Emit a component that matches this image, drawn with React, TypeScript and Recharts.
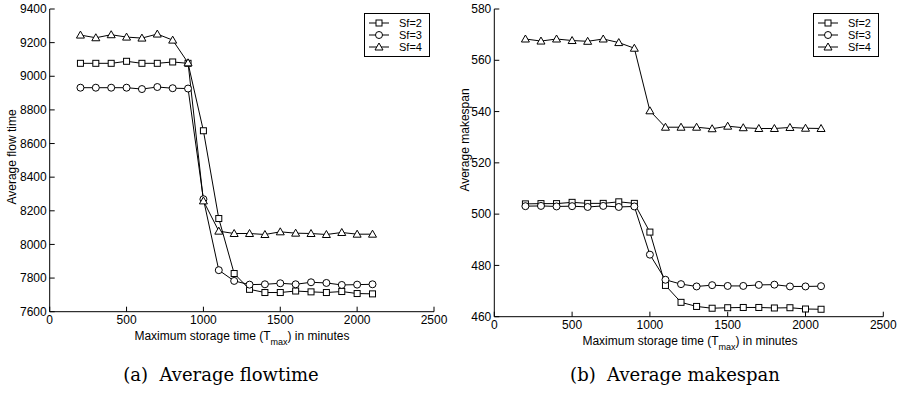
import React from 'react';
import { LineChart, Line, XAxis, YAxis } from 'recharts';

// storage time T_max in minutes
const tmax = [200, 300, 400, 500, 600, 700, 800, 900, 1000, 1100, 1200, 1300, 1400, 1500, 1600, 1700, 1800, 1900, 2000, 2100];

// (a) average flow time
const flowSf2 = [9077, 9077, 9077, 9089, 9077, 9077, 9085, 9077, 8676, 8154, 7827, 7733, 7714, 7714, 7723, 7718, 7714, 7720, 7708, 7706];
const flowSf3 = [8932, 8932, 8932, 8932, 8924, 8936, 8929, 8927, 8269, 7847, 7783, 7761, 7763, 7769, 7763, 7775, 7771, 7759, 7761, 7763];
const flowSf4 = [9245, 9229, 9247, 9233, 9227, 9251, 9215, 9080, 8259, 8079, 8065, 8065, 8059, 8075, 8067, 8065, 8059, 8071, 8061, 8061];

// (b) average makespan
const spanSf2 = [504.0, 504.1, 504.1, 504.6, 504.2, 504.2, 504.8, 504.2, 493.0, 472.2, 465.6, 464.0, 463.3, 463.5, 463.6, 463.6, 463.4, 463.5, 463.0, 462.9];
const spanSf3 = [503.1, 503.2, 503.0, 503.1, 502.8, 503.2, 502.8, 503.0, 484.2, 474.4, 472.7, 471.8, 472.3, 472.0, 472.0, 472.4, 472.5, 471.8, 471.8, 471.9];
const spanSf4 = [568.3, 567.5, 568.3, 567.7, 567.4, 568.3, 566.9, 564.7, 540.3, 533.9, 533.9, 533.9, 533.3, 534.3, 533.7, 533.4, 533.4, 533.8, 533.5, 533.4];

const xTicks = [0, 500, 1000, 1500, 2000, 2500];
const flowTicks = [7600, 7800, 8000, 8200, 8400, 8600, 8800, 9000, 9200, 9400];
const spanTicks = [460, 480, 500, 520, 540, 560, 580];
const seriesNames = ['Sf=2', 'Sf=3', 'Sf=4'];

const flowData = tmax.map((t, i) => ({ t, sf2: flowSf2[i], sf3: flowSf3[i], sf4: flowSf4[i] }));
const spanData = tmax.map((t, i) => ({ t, sf2: spanSf2[i], sf3: spanSf3[i], sf4: spanSf4[i] }));

const FONT = '"Liberation Sans", Arial, sans-serif';
const TICK = 5;

function Marker({ kind, cx, cy }: { kind: number; cx: number; cy: number }) {
  if (kind === 0) return <rect x={cx - 3} y={cy - 3} width={6} height={6} fill="#fff" stroke="#000" strokeWidth={1} />;
  if (kind === 1) return <circle cx={cx} cy={cy} r={3.5} fill="#fff" stroke="#000" strokeWidth={1} />;
  return <polygon points={`${cx},${cy - 4} ${cx - 4},${cy + 3} ${cx + 4},${cy + 3}`} fill="#fff" stroke="#000" strokeWidth={1} />;
}

const dot = (kind: number) => (p: any) => <Marker key={p.index} kind={kind} cx={p.cx} cy={p.cy} />;

const BottomTick = (p: any) => (
  <g>
    <line x1={p.x} x2={p.x} y1={p.y} y2={p.y - TICK} stroke="#000" />
    <text x={p.x} y={p.y + 4} dy="0.71em" textAnchor="middle" fontSize={12} fontFamily={FONT} fill="#000">
      {p.payload.value}
    </text>
  </g>
);
const TopTick = (p: any) => <line x1={p.x} x2={p.x} y1={p.y} y2={p.y + TICK} stroke="#000" />;
const LeftTick = (p: any) => (
  <g>
    <line x1={p.x} x2={p.x + TICK} y1={p.y} y2={p.y} stroke="#000" />
    <text x={p.x - 3} y={p.y} dy="0.35em" textAnchor="end" fontSize={12} fontFamily={FONT} fill="#000">
      {p.payload.value}
    </text>
  </g>
);
const RightTick = (p: any) => <line x1={p.x} x2={p.x - TICK} y1={p.y} y2={p.y} stroke="#000" />;

function LegendBox({ left, top }: { left: number; top: number }) {
  return (
    <div
      style={{
        position: 'absolute', left, top, width: 66, height: 44, border: '1px solid #000',
        background: '#fff', boxSizing: 'border-box', fontFamily: FONT, fontSize: 11,
      }}
    >
      {seriesNames.map((name, i) => (
        <div key={name} style={{ position: 'absolute', left: 3, top: 3 + i * 12, height: 12, display: 'flex', alignItems: 'center' }}>
          <svg width={22} height={12}>
            <line x1={1} x2={21} y1={6} y2={6} stroke="#000" />
            <Marker kind={i} cx={11} cy={6} />
          </svg>
          <span style={{ marginLeft: 9, lineHeight: '12px' }}>{name}</span>
        </div>
      ))}
    </div>
  );
}

function Panel(props: {
  data: any[]; yTicks: number[]; yWidth: number; right: number; bottom: number; offsetX: number;
}) {
  const { data, yTicks, yWidth, right, bottom, offsetX } = props;
  const domain = [yTicks[0], yTicks[yTicks.length - 1]];
  return (
    <div style={{ position: 'absolute', left: offsetX, top: 0 }}>
      <LineChart width={450} height={345} data={data} margin={{ top: 9, right, bottom, left: 0 }}>
        <XAxis dataKey="t" type="number" domain={[0, 2500]} ticks={xTicks} height={20}
          tickSize={0} tickMargin={0} tickLine={false} tick={BottomTick} stroke="#000" interval={0} />
        <XAxis xAxisId="top" orientation="top" dataKey="t" type="number" domain={[0, 2500]} ticks={xTicks} height={0}
          tickSize={0} tickMargin={0} tickLine={false} tick={TopTick} stroke="#000" interval={0} />
        <YAxis type="number" domain={domain} ticks={yTicks} width={yWidth} allowDataOverflow
          tickSize={0} tickMargin={0} tickLine={false} tick={LeftTick} stroke="#000" interval={0} />
        <YAxis yAxisId="right" orientation="right" type="number" domain={domain} ticks={yTicks} width={0} allowDataOverflow
          tickSize={0} tickMargin={0} tickLine={false} tick={RightTick} stroke="#000" interval={0} />
        <Line dataKey="sf2" stroke="#000" strokeWidth={1} dot={dot(0)} isAnimationActive={false} />
        <Line dataKey="sf3" stroke="#000" strokeWidth={1} dot={dot(1)} isAnimationActive={false} />
        <Line dataKey="sf4" stroke="#000" strokeWidth={1} dot={dot(2)} isAnimationActive={false} />
      </LineChart>
    </div>
  );
}

function XTitle({ cx, cy }: { cx: number; cy: number }) {
  return (
    <div style={{ position: 'absolute', left: cx - 150, top: cy - 7, width: 300, textAlign: 'center', fontFamily: FONT, fontSize: 12, lineHeight: '14px' }}>
      Maximum storage time (T<sub style={{ fontSize: 9, verticalAlign: -5 }}>max</sub>) in minutes
    </div>
  );
}

function YTitle({ cx, cy, text }: { cx: number; cy: number; text: string }) {
  return (
    <div style={{ position: 'absolute', left: cx - 80, top: cy - 7, width: 160, textAlign: 'center', fontFamily: FONT, fontSize: 12, lineHeight: '14px', transform: 'rotate(-90deg)' }}>
      {text}
    </div>
  );
}

function Caption({ cx, cy, text }: { cx: number; cy: number; text: string }) {
  return (
    <div style={{ position: 'absolute', left: cx - 150, top: cy - 11, width: 300, textAlign: 'center', fontFamily: '"DejaVu Serif", serif', fontSize: 18, lineHeight: '22px', whiteSpace: 'pre' }}>
      {text}
    </div>
  );
}

export default function App() {
  return (
    <div style={{ position: 'absolute', left: 0, top: 0, width: 900, height: 393, background: '#fff', overflow: 'hidden' }}>
      <Panel data={flowData} yTicks={flowTicks} yWidth={49.7} right={16} bottom={13.3} offsetX={0} />
      <Panel data={spanData} yTicks={spanTicks} yWidth={44.3} right={16.7} bottom={8.3} offsetX={450} />
      <LegendBox left={364} top={13} />
      <LegendBox left={813} top={13} />
      <YTitle cx={12} cy={157} text="Average flow time" />
      <YTitle cx={465} cy={140} text="Average makespan" />
      <XTitle cx={242} cy={336} />
      <XTitle cx={690} cy={341} />
      <Caption cx={221} cy={375} text="(a)  Average flowtime" />
      <Caption cx={675} cy={375} text="(b)  Average makespan" />
    </div>
  );
}
